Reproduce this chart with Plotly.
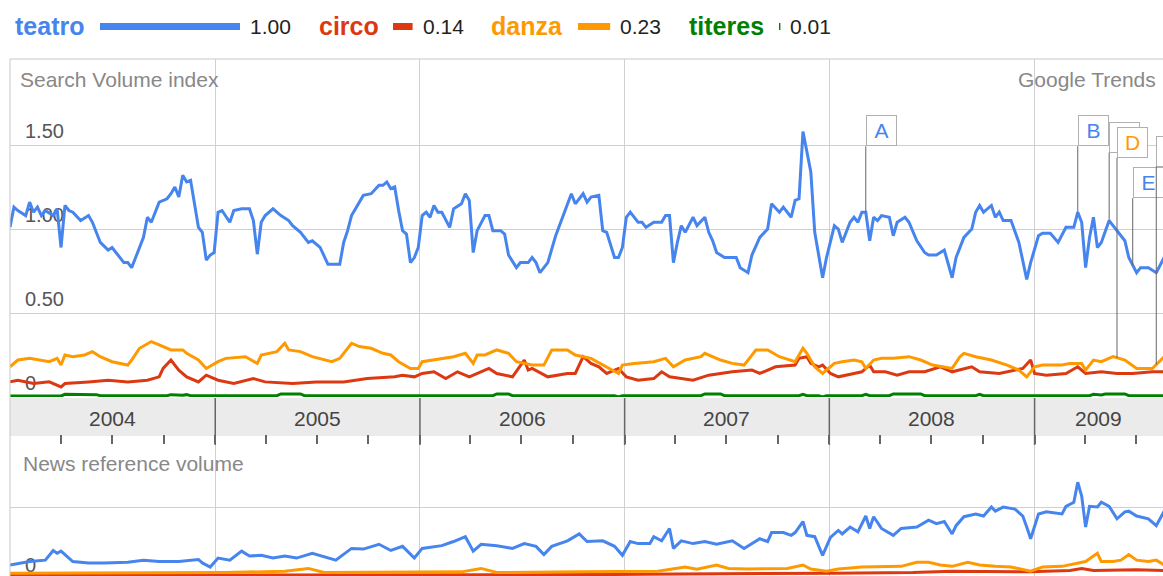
import numpy as np
import pandas as pd
import plotly.graph_objects as go

W, H = 1163, 576

# ---------------- data ----------------
terms = ["teatro", "circo", "danza", "titeres"]
term_avgs = [1.00, 0.14, 0.23, 0.01]
term_colors = ["#4684EE", "#DC3912", "#FF9900", "#008000"]

week0 = "2004-01-01"          # weekly data, week index counted from here
x_end = "2009-08-18"
years = [2004, 2005, 2006, 2007, 2008, 2009]

# Search volume index (weekly index -> value)
teatro_weeks = [0, 1, 2, 4, 5, 6, 7, 8, 9, 11, 12, 13, 14, 15, 16, 18, 20, 21, 23, 25, 26, 27, 29, 30, 31, 32,
                34, 35, 36, 38, 39, 40, 41, 42, 43, 44, 45, 46, 47, 48, 49, 50, 51, 52, 53, 54, 56, 57, 59, 61,
                62, 63, 64, 65, 67, 69, 71, 72, 74, 76, 77, 79, 81, 82, 84, 85, 86, 87, 89, 90, 92, 94, 95, 96,
                97, 98, 99, 100, 101, 102, 103, 104, 105, 106, 107, 108, 109, 110, 112, 113, 115, 116, 117, 118,
                119, 120, 121, 122, 123, 125, 126, 127, 129, 130, 132, 133, 134, 135, 137, 139, 141, 143, 144,
                146, 147, 148, 150, 151, 152, 154, 155, 156, 157, 158, 160, 161, 162, 164, 166, 167, 168, 169,
                170, 171, 172, 174, 175, 177, 178, 179, 180, 182, 184, 185, 186, 188, 189, 191, 193, 194, 196,
                197, 199, 200, 201, 202, 204, 205, 207, 208, 210, 211, 212, 214, 215, 216, 217, 218, 219, 220,
                221, 222, 224, 225, 226, 228, 229, 231, 233, 234, 236, 237, 238, 240, 241, 243, 245, 246, 247,
                248, 250, 251, 252, 253, 255, 257, 258, 259, 260, 262, 263, 265, 267, 269, 271, 272, 273, 274,
                275, 276, 277, 278, 280, 281, 284, 285, 287, 288, 290, 292, 294, 295]
teatro_vals = [1.01, 1.13, 1.11, 1.08, 1.16, 1.10, 1.13, 1.08, 1.11, 1.08, 1.12, 0.89, 1.14, 1.11, 1.10, 1.05,
               1.08, 1.04, 0.92, 0.875, 0.89, 0.86, 0.80, 0.80, 0.77, 0.83, 0.95, 1.07, 1.04, 1.16, 1.17, 1.18,
               1.21, 1.25, 1.19, 1.32, 1.28, 1.29, 1.15, 1.01, 0.98, 0.815, 0.845, 0.86, 1.10, 1.11, 1.04, 1.11,
               1.12, 1.12, 1.05, 0.85, 1.04, 1.08, 1.12, 1.08, 1.05, 1.02, 0.98, 0.92, 0.93, 0.89, 0.79, 0.79,
               0.79, 0.92, 0.99, 1.08, 1.16, 1.20, 1.21, 1.26, 1.26, 1.28, 1.24, 1.25, 1.11, 0.99, 0.97, 0.80,
               0.83, 0.89, 1.08, 1.10, 1.07, 1.14, 1.10, 1.10, 1.01, 1.12, 1.15, 1.21, 1.17, 0.86, 0.99, 1.04,
               1.08, 1.08, 0.99, 0.99, 0.97, 0.845, 0.77, 0.80, 0.80, 0.83, 0.80, 0.74, 0.80, 0.96, 1.08, 1.21,
               1.15, 1.21, 1.16, 1.19, 1.20, 0.99, 0.98, 0.83, 0.83, 0.89, 1.07, 1.10, 1.04, 1.04, 1.01, 1.04,
               1.04, 1.08, 1.08, 0.80, 0.92, 1.02, 0.98, 1.07, 1.02, 1.07, 0.98, 0.93, 0.86, 0.83, 0.83, 0.83,
               0.77, 0.74, 0.845, 0.95, 1.00, 1.15, 1.10, 1.13, 1.07, 1.17, 1.18, 1.58, 1.34, 0.98, 0.71, 0.83,
               1.02, 1.00, 0.92, 1.04, 1.07, 1.04, 1.10, 1.10, 0.93, 1.07, 1.05, 1.08, 1.07, 0.96, 1.04, 1.07,
               1.04, 0.93, 0.86, 0.845, 0.845, 0.86, 0.875, 0.71, 0.83, 0.95, 1.00, 1.10, 1.14, 1.10, 1.14,
               1.07, 1.10, 1.05, 1.05, 0.92, 0.815, 0.70, 0.80, 0.96, 0.975, 0.975, 0.92, 1.01, 1.01, 1.10,
               1.04, 0.77, 0.95, 1.07, 0.89, 0.92, 1.05, 1.02, 0.93, 0.83, 0.74, 0.77, 0.77, 0.74, 0.83, 0.92]

circo_weeks = [0, 2, 6, 10, 13, 14, 20, 25, 30, 35, 38, 39, 41, 43, 45, 48, 50, 53, 57, 62, 65, 72, 78, 85, 91,
               98, 100, 103, 105, 108, 111, 114, 117, 122, 124, 128, 131, 132, 133, 137, 142, 144, 146, 148,
               150, 152, 155, 157, 160, 164, 166, 168, 174, 178, 184, 189, 191, 195, 200, 201, 203, 204, 206,
               207, 209, 211, 215, 217, 219, 220, 223, 226, 229, 233, 237, 240, 245, 247, 252, 258, 260, 261,
               264, 269, 272, 274, 278, 282, 286, 291, 294]
circo_vals = [0.09, 0.10, 0.08, 0.09, 0.06, 0.08, 0.09, 0.10, 0.09, 0.10, 0.12, 0.17, 0.22, 0.16, 0.12, 0.09,
              0.13, 0.10, 0.08, 0.11, 0.09, 0.08, 0.09, 0.09, 0.11, 0.12, 0.13, 0.12, 0.14, 0.15, 0.11, 0.15,
              0.12, 0.17, 0.14, 0.12, 0.22, 0.16, 0.17, 0.12, 0.14, 0.14, 0.24, 0.20, 0.18, 0.14, 0.17, 0.12,
              0.10, 0.11, 0.15, 0.12, 0.10, 0.13, 0.15, 0.16, 0.14, 0.18, 0.19, 0.23, 0.24, 0.20, 0.18, 0.19,
              0.14, 0.12, 0.14, 0.15, 0.19, 0.15, 0.15, 0.13, 0.15, 0.15, 0.18, 0.15, 0.18, 0.15, 0.14, 0.17,
              0.22, 0.14, 0.13, 0.14, 0.18, 0.14, 0.15, 0.14, 0.14, 0.15, 0.15]

danza_weeks = [0, 1, 2, 5, 8, 10, 12, 13, 14, 16, 19, 21, 23, 26, 30, 31, 33, 36, 38, 41, 44, 45, 48, 50, 53,
               55, 60, 63, 64, 68, 70, 71, 74, 77, 82, 84, 87, 89, 92, 95, 97, 99, 102, 104, 105, 110, 113,
               116, 118, 119, 121, 124, 127, 129, 133, 136, 138, 142, 144, 148, 151, 155, 156, 159, 164, 167,
               169, 172, 176, 177, 181, 184, 187, 190, 193, 196, 200, 202, 203, 205, 207, 208, 210, 212, 215,
               217, 218, 220, 222, 225, 229, 232, 235, 240, 242, 243, 246, 250, 254, 257, 259, 261, 263, 268,
               270, 273, 274, 276, 278, 281, 284, 287, 291, 294]
danza_vals = [0.18, 0.20, 0.22, 0.23, 0.22, 0.21, 0.23, 0.19, 0.25, 0.24, 0.25, 0.27, 0.24, 0.21, 0.19, 0.22,
              0.29, 0.33, 0.31, 0.28, 0.28, 0.26, 0.22, 0.17, 0.21, 0.23, 0.24, 0.20, 0.25, 0.27, 0.32, 0.28,
              0.27, 0.24, 0.21, 0.23, 0.32, 0.30, 0.29, 0.26, 0.25, 0.21, 0.17, 0.17, 0.21, 0.23, 0.24, 0.26,
              0.20, 0.25, 0.25, 0.28, 0.26, 0.21, 0.19, 0.19, 0.28, 0.28, 0.25, 0.23, 0.19, 0.14, 0.19, 0.20,
              0.21, 0.23, 0.18, 0.22, 0.24, 0.26, 0.22, 0.20, 0.19, 0.28, 0.28, 0.24, 0.21, 0.29, 0.26, 0.18,
              0.14, 0.16, 0.20, 0.21, 0.22, 0.21, 0.17, 0.22, 0.23, 0.23, 0.24, 0.22, 0.19, 0.17, 0.24, 0.26,
              0.24, 0.22, 0.19, 0.16, 0.12, 0.18, 0.19, 0.19, 0.20, 0.20, 0.16, 0.22, 0.21, 0.24, 0.22, 0.17,
              0.17, 0.24]

titeres_weeks = [0, 13, 14, 22, 23, 40, 41, 44, 45, 46, 68, 69, 74, 75, 123, 124, 127, 128, 154, 155, 156, 176,
                 177, 181, 182, 201, 202, 203, 206, 207, 208, 217, 218, 219, 224, 225, 232, 233, 246, 247, 248,
                 275, 276, 278, 279, 284, 285, 294]
titeres_vals = [0.006, 0.006, 0.016, 0.014, 0.008, 0.008, 0.014, 0.010, 0.014, 0.008, 0.008, 0.018, 0.018,
                0.008, 0.008, 0.018, 0.018, 0.008, 0.008, 0.0, 0.008, 0.008, 0.018, 0.018, 0.008, 0.008, 0.016,
                0.008, 0.008, 0.0, 0.008, 0.008, 0.016, 0.008, 0.008, 0.018, 0.018, 0.008, 0.008, 0.016, 0.008,
                0.008, 0.016, 0.012, 0.018, 0.018, 0.008, 0.008]

# News reference volume
news_teatro_weeks = [0, 5, 9, 11, 12, 13, 16, 20, 24, 30, 34, 38, 43, 48, 49, 51, 53, 56, 59, 61, 64, 67, 70,
                     73, 77, 83, 87, 90, 94, 97, 100, 103, 105, 110, 113, 116, 118, 120, 124, 128, 131, 134,
                     136, 138, 142, 145, 147, 151, 154, 156, 158, 160, 163, 164, 166, 168, 169, 171, 174, 177,
                     180, 184, 187, 191, 193, 194, 197, 199, 200, 202, 203, 205, 207, 209, 211, 212, 214, 216,
                     218, 219, 220, 222, 225, 227, 231, 234, 236, 238, 240, 241, 243, 246, 248, 250, 251, 253,
                     256, 258, 259, 260, 262, 264, 268, 269, 271, 272, 273, 274, 275, 277, 278, 280, 282, 284,
                     285, 287, 290, 292, 294]
news_teatro_vals = [0.16, 0.21, 0.23, 0.37, 0.33, 0.36, 0.21, 0.19, 0.19, 0.20, 0.23, 0.21, 0.21, 0.24, 0.19,
                    0.13, 0.26, 0.23, 0.36, 0.29, 0.30, 0.26, 0.29, 0.26, 0.33, 0.23, 0.40, 0.39, 0.46, 0.37,
                    0.43, 0.26, 0.40, 0.44, 0.50, 0.57, 0.36, 0.46, 0.44, 0.40, 0.47, 0.43, 0.31, 0.43, 0.51,
                    0.61, 0.50, 0.51, 0.43, 0.30, 0.50, 0.47, 0.47, 0.57, 0.51, 0.69, 0.40, 0.51, 0.47, 0.50,
                    0.46, 0.51, 0.40, 0.54, 0.50, 0.63, 0.63, 0.59, 0.63, 0.79, 0.59, 0.57, 0.30, 0.56, 0.66,
                    0.61, 0.71, 0.64, 0.87, 0.69, 0.86, 0.69, 0.59, 0.69, 0.71, 0.81, 0.76, 0.79, 0.61, 0.73,
                    0.86, 0.90, 0.87, 1.00, 0.94, 1.00, 0.97, 0.87, 0.71, 0.54, 0.90, 0.93, 0.90, 1.01, 1.07,
                    1.36, 1.16, 0.71, 1.01, 1.00, 1.07, 1.01, 0.83, 0.93, 0.94, 0.87, 0.83, 0.73, 0.94]

news_circo_weeks = [0, 100, 150, 170, 200, 210, 230, 240, 260, 270, 273, 276, 287, 294]
news_circo_vals = [0.01, 0.01, 0.02, 0.03, 0.03, 0.04, 0.05, 0.07, 0.06, 0.08, 0.11, 0.08, 0.09, 0.08]

news_danza_weeks = [0, 20, 35, 55, 70, 76, 80, 100, 115, 120, 124, 145, 155, 165, 172, 175, 180, 183, 188, 193,
                    198, 202, 204, 208, 211, 217, 223, 227, 231, 234, 237, 240, 244, 247, 251, 255, 260, 263,
                    268, 272, 274, 277, 278, 281, 283, 285, 287, 290, 292, 294]
news_danza_vals = [0.04, 0.04, 0.05, 0.05, 0.07, 0.11, 0.05, 0.05, 0.06, 0.11, 0.05, 0.06, 0.07, 0.07, 0.13,
                   0.10, 0.16, 0.11, 0.10, 0.10, 0.11, 0.16, 0.10, 0.07, 0.10, 0.13, 0.14, 0.14, 0.20, 0.20,
                   0.16, 0.14, 0.20, 0.16, 0.14, 0.13, 0.07, 0.13, 0.14, 0.19, 0.21, 0.33, 0.21, 0.21, 0.23,
                   0.31, 0.23, 0.21, 0.23, 0.16]

# news flags
events = ["A", "B", "C", "D", "E", "F"]
event_weeks = [218, 272, 280, 282, 286, 292]
event_terms = ["teatro", "teatro", "teatro", "danza", "teatro", "danza"]

# ---------------- layout constants ----------------
FONT = "Liberation Sans, Arial, sans-serif"
X0 = 10 / W
flag_rise = [66, 66, 68, 200, 67, 198]            # px from data point up to flag box
legend_name_px = [13, 317, 489, 687]
legend_bar_px = [100, 393, 578, 779]
legend_bar_full = 140


def py(p):
    return 1 - p / H


def week_dates(weeks):
    return pd.Timestamp(week0) + pd.to_timedelta(np.asarray(weeks) * 7, unit="D")


search = {
    "teatro": (teatro_weeks, teatro_vals),
    "circo": (circo_weeks, circo_vals),
    "danza": (danza_weeks, danza_vals),
    "titeres": (titeres_weeks, titeres_vals),
}
news = {
    "circo": (news_circo_weeks, news_circo_vals),
    "danza": (news_danza_weeks, news_danza_vals),
    "teatro": (news_teatro_weeks, news_teatro_vals),
}
color_of = dict(zip(terms, term_colors))

fig = go.Figure()
for name in ["teatro", "circo", "danza", "titeres"]:
    wk, vals = search[name]
    fig.add_trace(go.Scatter(x=week_dates(wk), y=vals, mode="lines", xaxis="x", yaxis="y",
                             line=dict(color=color_of[name], width=3), hoverinfo="skip"))
for name in ["circo", "danza", "teatro"]:
    wk, vals = news[name]
    fig.add_trace(go.Scatter(x=week_dates(wk), y=vals, mode="lines", xaxis="x2", yaxis="y2",
                             line=dict(color=color_of[name], width=3), hoverinfo="skip"))

grid = "#d0d0d0"
fig.update_layout(
    width=W, height=H, margin=dict(l=0, r=0, t=0, b=0, pad=0),
    paper_bgcolor="white", plot_bgcolor="white", showlegend=False,
    font=dict(family=FONT, size=21, color="#444"),
    xaxis=dict(domain=[X0, 1], range=[week0, x_end], type="date", anchor="y",
               showgrid=True, gridcolor=grid, gridwidth=1, dtick="M12", tick0="2004-01-01",
               ticks="", showticklabels=False, showline=False, zeroline=False),
    yaxis=dict(domain=[py(397), py(59)], range=[0, 338 / 168], anchor="x",
               tickvals=[0, 0.5, 1, 1.5], ticktext=["0", "0.50", "1.00", "1.50"],
               ticklabelposition="inside", ticklabelstandoff=12, ticklabelshift=-14,
               tickfont=dict(size=20, color="#555"), showgrid=True, gridcolor=grid,
               zeroline=False, showline=False, layer="below traces"),
    xaxis2=dict(domain=[X0, 1], range=[week0, x_end], type="date", anchor="y2", side="top",
                showgrid=True, gridcolor=grid, dtick="M12", tick0="2004-01-01",
                ticks="outside", ticklen=9, tickwidth=1.5, tickcolor="#666",
                minor=dict(ticks="outside", ticklen=9, tickwidth=1.5, tickcolor="#666",
                           dtick="M3", tick0="2004-01-01", showgrid=False),
                showticklabels=False, showline=False, zeroline=False),
    yaxis2=dict(domain=[0, py(445)], range=[0, 1.9], anchor="x2",
                tickvals=[0, 1], ticktext=["0", ""],
                ticklabelposition="inside", ticklabelstandoff=12, ticklabelshift=-11,
                tickfont=dict(size=20, color="#555"), showgrid=True, gridcolor=grid,
                zeroline=False, showline=False, layer="below traces"),
)

shapes = []
# grey year band
shapes.append(dict(type="rect", xref="paper", yref="paper", x0=X0, x1=1, y0=py(436), y1=py(398),
                   fillcolor="#ebebeb", line=dict(width=0), layer="below"))
# year boundaries crossing the band
for yr in years[1:]:
    shapes.append(dict(type="line", xref="x", yref="paper", x0=f"{yr}-01-01", x1=f"{yr}-01-01",
                       y0=py(445), y1=py(398), line=dict(color="#666", width=1.5)))
# frame
shapes.append(dict(type="line", xref="paper", yref="paper", x0=X0, x1=X0, y0=0, y1=py(59),
                   line=dict(color="#c8c8c8", width=1)))
shapes.append(dict(type="line", xref="paper", yref="paper", x0=X0, x1=1, y0=py(59), y1=py(59),
                   line=dict(color="#c8c8c8", width=1)))
# legend bars (length proportional to average)
for bx, val, col in zip(legend_bar_px, term_avgs, term_colors):
    shapes.append(dict(type="rect", xref="paper", yref="paper", x0=bx / W, x1=(bx + legend_bar_full * val) / W,
                       y0=py(30), y1=py(23), fillcolor=col, line=dict(width=0)))
fig.update_layout(shapes=shapes)

ann = []
for name, nx, bx, val, col in zip(terms, legend_name_px, legend_bar_px, term_avgs, term_colors):
    ann.append(dict(text=f"<b>{name}</b>", xref="paper", yref="paper", x=nx / W, y=py(26.5),
                    xanchor="left", yanchor="middle", showarrow=False,
                    font=dict(size=25, color=col, family=FONT)))
    ann.append(dict(text=f"{val:.2f}", xref="paper", yref="paper", x=(bx + legend_bar_full * val + 8) / W,
                    y=py(26.5), xanchor="left", yanchor="middle", showarrow=False,
                    font=dict(size=21, color="#222", family=FONT)))

ann.append(dict(text="Search Volume index", xref="paper", yref="paper", x=18 / W, y=py(80),
                xanchor="left", yanchor="middle", showarrow=False, font=dict(size=21, color="#888")))
ann.append(dict(text="Google Trends", xref="paper", yref="paper", x=1158 / W, y=py(80),
                xanchor="right", yanchor="middle", showarrow=False, font=dict(size=21, color="#888")))
ann.append(dict(text="News reference volume", xref="paper", yref="paper", x=21 / W, y=py(463),
                xanchor="left", yanchor="middle", showarrow=False, font=dict(size=21, color="#888")))

# year labels centred in the visible part of each year
r0, r1 = pd.Timestamp(week0), pd.Timestamp(x_end)
for yr in years:
    a = max(pd.Timestamp(f"{yr}-01-01"), r0)
    b = min(pd.Timestamp(f"{yr + 1}-01-01"), r1)
    mid = a + (b - a) / 2
    ann.append(dict(text=str(yr), xref="x", yref="paper", x=mid, y=py(418), xanchor="center",
                    yanchor="middle", showarrow=False, font=dict(size=21, color="#444")))

# news flags
for letter, wk, term, rise in zip(events, event_weeks, event_terms, flag_rise):
    wks, vals = search[term]
    yv = float(np.interp(wk, wks, vals))
    ann.append(dict(text=letter, xref="x", yref="y", x=week_dates([wk])[0], y=yv,
                    showarrow=True, arrowhead=0, arrowwidth=1, arrowcolor="#666",
                    axref="pixel", ayref="pixel", ax=0, ay=-rise, standoff=0,
                    xanchor="left", yanchor="bottom", bgcolor="white", bordercolor="#b0b0b0",
                    borderwidth=1, borderpad=2, width=25, height=25,
                    font=dict(size=21, color=color_of[term], family=FONT)))
fig.update_layout(annotations=ann)

fig.write_html("out.html", config={"displayModeBar": False},
               post_script="document.body.style.margin='0';document.body.style.overflow='hidden';")
